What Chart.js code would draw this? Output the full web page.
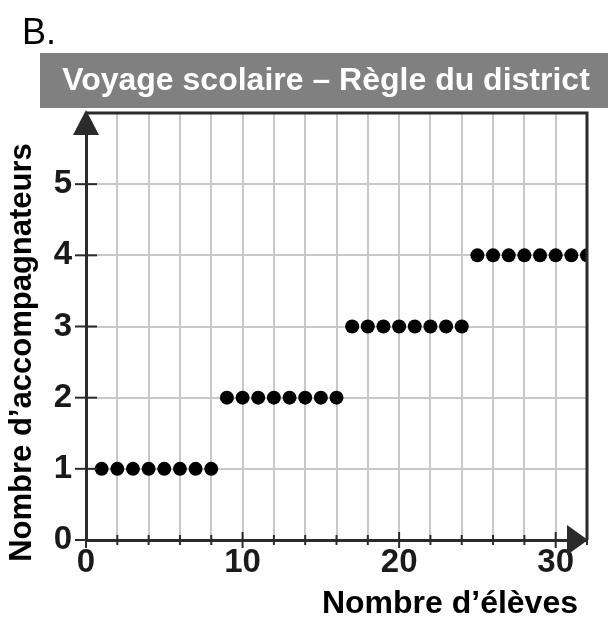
<!DOCTYPE html>
<html>
<head>
<meta charset="utf-8">
<script src="https://cdn.jsdelivr.net/npm/chart.js@4"></script>
<style>
  html, body { margin: 0; padding: 0; background: #fff; }
</style>
</head>
<body>
<canvas id="chart" width="608" height="618"></canvas>
<script>
// texts
const panelLabel = "B.";
const chartTitle = "Voyage scolaire – Règle du district";
const xTitle = "Nombre d’élèves";
const yTitle = "Nombre d’accompagnateurs";

// data: number of students -> number of chaperones
const students = [1, 2, 3, 4, 5, 6, 7, 8, 9, 10, 11, 12, 13, 14, 15, 16,
  17, 18, 19, 20, 21, 22, 23, 24, 25, 26, 27, 28, 29, 30, 31, 32];
const chaperones = [1, 1, 1, 1, 1, 1, 1, 1, 2, 2, 2, 2, 2, 2, 2, 2,
  3, 3, 3, 3, 3, 3, 3, 3, 4, 4, 4, 4, 4, 4, 4, 4];

// tick labels
const xTickLabels = [0, 10, 20, 30];
const yTickLabels = [0, 1, 2, 3, 4, 5];

const points = students.map((s, i) => ({ x: s, y: chaperones[i] }));

// the digits in the picture are narrow and tall
function hasFont(name) {
  const c = document.createElement("canvas").getContext("2d");
  c.font = "40px monospace";
  const w0 = c.measureText("0123456789").width;
  c.font = `40px "${name}", monospace`;
  return c.measureText("0123456789").width !== w0;
}
const narrow = hasFont("Liberation Sans Narrow");
const tickFont = narrow
  ? { family: "'Liberation Sans Narrow', 'Liberation Sans', Arial, sans-serif", size: 36, weight: "bold" }
  : { family: "'Liberation Sans', Arial, sans-serif", size: 33, weight: "bold" };
const xTitleFont = "bold 32px 'Liberation Sans', Arial, sans-serif";
const yTitleFont = "bold 31px 'Liberation Sans', Arial, sans-serif";

const axisColor = "#2b2b2b";
const gridColor = "#c8c8c8";

const framePlugin = {
  id: "frame",
  beforeDraw(chart) {
    const ctx = chart.ctx;
    ctx.save();
    ctx.fillStyle = "#fff";
    ctx.fillRect(0, 0, chart.width, chart.height);

    // panel letter
    ctx.fillStyle = "#000";
    ctx.font = "36px 'Liberation Sans', Arial, sans-serif";
    ctx.textBaseline = "alphabetic";
    ctx.fillText(panelLabel, 22, 44);

    // grey title band
    ctx.fillStyle = "#808080";
    ctx.fillRect(40, 53, chart.width - 40, 55);
    ctx.fillStyle = "#fff";
    ctx.font = "bold 32px 'Liberation Sans', Arial, sans-serif";
    ctx.textAlign = "center";
    ctx.textBaseline = "middle";
    ctx.fillText(chartTitle, 326, 81);
    ctx.restore();
  },
  afterDatasetsDraw(chart) {
    const { ctx, chartArea: a, scales: { x, y } } = chart;
    ctx.save();
    ctx.strokeStyle = axisColor;
    ctx.fillStyle = axisColor;
    ctx.lineWidth = 3;

    // top and right edges
    ctx.beginPath();
    ctx.moveTo(a.left, a.top);
    ctx.lineTo(a.right, a.top);
    ctx.lineTo(a.right, a.bottom);
    ctx.stroke();

    // tick crosses on the axes
    ctx.lineWidth = 2;
    x.ticks.forEach(t => {
      const px = x.getPixelForValue(t.value);
      const h = xTickLabels.includes(t.value) ? 8 : 5;
      ctx.beginPath();
      ctx.moveTo(px, a.bottom - h);
      ctx.lineTo(px, a.bottom + h);
      ctx.stroke();
    });
    y.ticks.forEach(t => {
      if (!yTickLabels.includes(t.value)) return;
      const py = y.getPixelForValue(t.value);
      ctx.beginPath();
      ctx.moveTo(a.left - 11, py);
      ctx.lineTo(a.left + 11, py);
      ctx.stroke();
    });

    // arrow heads
    ctx.beginPath();
    ctx.moveTo(a.left, a.top - 3);
    ctx.lineTo(a.left - 13, a.top + 22);
    ctx.lineTo(a.left + 13, a.top + 22);
    ctx.closePath();
    ctx.fill();

    ctx.beginPath();
    ctx.moveTo(a.right + 1, a.bottom);
    ctx.lineTo(a.right - 20, a.bottom - 15);
    ctx.lineTo(a.right - 20, a.bottom + 15);
    ctx.closePath();
    ctx.fill();

    // axis titles
    ctx.fillStyle = "#000";
    ctx.textBaseline = "alphabetic";
    ctx.font = xTitleFont;
    ctx.textAlign = "right";
    ctx.fillText(xTitle, a.right - 9, 613);

    ctx.font = yTitleFont;
    ctx.translate(31, (a.top + a.bottom) / 2 + 26);
    ctx.rotate(-Math.PI / 2);
    ctx.textAlign = "center";
    ctx.fillText(yTitle, 0, 0);
    ctx.restore();
  }
};

new Chart(document.getElementById("chart"), {
  type: "scatter",
  data: {
    datasets: [{
      data: points,
      backgroundColor: "#000",
      borderColor: "#000",
      borderWidth: 0,
      pointRadius: 7,
      pointHoverRadius: 7,
      clip: 0
    }]
  },
  options: {
    responsive: false,
    animation: false,
    devicePixelRatio: 1,
    layout: { padding: { top: 113, right: 21, left: 0, bottom: 0 } },
    plugins: {
      legend: { display: false },
      tooltip: { enabled: false }
    },
    scales: {
      x: {
        type: "linear",
        min: 0,
        max: 32,
        ticks: {
          stepSize: 2,
          autoSkip: false,
          maxRotation: 0,
          padding: 3,
          color: "#1a1a1a",
          font: tickFont,
          callback: v => xTickLabels.includes(v) ? String(v) : ""
        },
        grid: { color: gridColor, lineWidth: 2, drawTicks: false },
        border: { color: axisColor, width: 3 },
        afterFit: s => { s.height = 78; }
      },
      y: {
        type: "linear",
        min: 0,
        max: 6,
        ticks: {
          stepSize: 1,
          padding: 14,
          color: "#1a1a1a",
          font: tickFont,
          callback: v => yTickLabels.includes(v) ? String(v) : ""
        },
        grid: { color: gridColor, lineWidth: 2, drawTicks: false },
        border: { color: axisColor, width: 3 },
        afterFit: s => { s.width = 86; }
      }
    }
  },
  plugins: [framePlugin]
});
</script>
</body>
</html>
